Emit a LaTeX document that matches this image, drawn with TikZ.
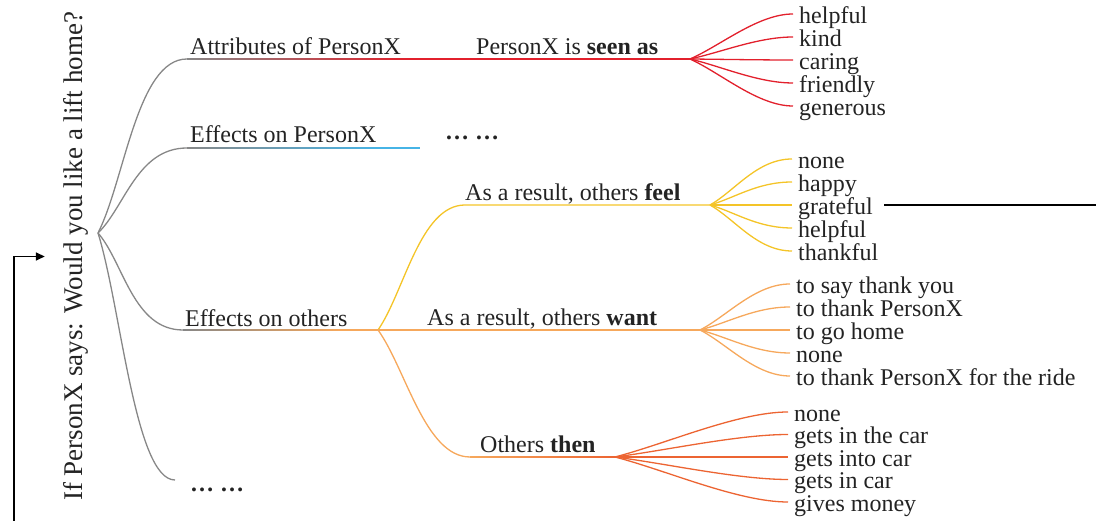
\documentclass[tikz,border=0pt]{standalone}
\usepackage{fontspec}
\setmainfont{Liberation Serif}
\usetikzlibrary{calc, positioning, arrows.meta}

\definecolor{linegray}{RGB}{135,135,135}
\definecolor{seenred}{RGB}{226,32,44}
\definecolor{effblue}{RGB}{70,180,230}
\definecolor{feelyellow}{RGB}{244,196,40}
\definecolor{wantorange}{RGB}{246,168,92}
\definecolor{thenorange}{RGB}{236,100,50}
\definecolor{inkgray}{RGB}{35,35,35}

\tikzset{
	branch/.style={line width=1.3pt, to path={.. controls ($(\tikztostart)!0.3!(\tikztotarget)$) and ($(\tikztotarget)+(-#1,0)$) .. (\tikztotarget)}},
	branch/.default=40,
	catlabel/.style={anchor=base west, inner sep=0pt, text=inkgray},
	leaf/.style={anchor=west, inner xsep=6pt, inner ysep=0pt, text height=20pt, text depth=1pt, text=inkgray},
	loopline/.style={line width=1.6pt, black}
}

\begin{document}
\begin{tikzpicture}[x=1pt, y=1pt, font=\fontsize{24}{24}\selectfont]
	\useasboundingbox (0,0) rectangle (1096,521);
	
	% the question
	\node [rotate=90, anchor=base, inner sep=18pt, text=inkgray, font=\fontsize{27}{27}\selectfont] (question) at (82,264.5) {If PersonX says: Would you like a lift home?};
	\coordinate (qfan) at (98,288);
	
	% first level
	\coordinate (attr) at (187,462);
	\coordinate (effx) at (187,373);
	\coordinate (effo) at (183,191);
	\coordinate (more) at (175,41);
	\coordinate (seenfan) at (690,462);
	\coordinate (effxend) at (420,373);
	\coordinate (othfan) at (378,191);
	
	\draw [linegray, branch=50] (qfan) to (attr);
	\draw [linegray, branch=50] (qfan) to (effx);
	\draw [linegray, branch=50] (qfan) to (effo);
	\draw [linegray, branch=40] (qfan) to (more);
	
	\shade [left color=linegray, right color=seenred] ($(attr)+(0,-0.65)$) rectangle (410,462.65);
	\draw [seenred, line width=1.3pt] (410,462) -- (seenfan);
	\shade [left color=linegray, right color=effblue] ($(effx)+(0,-0.65)$) rectangle (380,373.65);
	\draw [effblue, line width=1.3pt] (380,373) -- (effxend);
	\shade [left color=linegray, right color=wantorange] ($(effo)+(0,-0.65)$) rectangle (340,191.65);
	\draw [wantorange, line width=1.3pt] (340,191) -- (othfan);
	
	\node [catlabel] (attrlbl) at (190,466) {Attributes of PersonX};
	\node [catlabel] (effxlbl) at (190,378) {Effects on PersonX};
	\node [catlabel] (effolbl) at (185,194) {Effects on others};
	\node [catlabel] (effxdots) at (445,381) {\textbf{… …}};
	\node [catlabel] (moredots) at (190,29) {\textbf{… …}};
	
	% second level
	\coordinate (feel) at (465,316);
	\coordinate (feelfan) at (710,316);
	\coordinate (wantfan) at (700,191);
	\coordinate (then) at (470,64);
	\coordinate (thenfan) at (615,64);
	
	\draw [feelyellow, branch=45] (othfan) to (feel) -- (feelfan);
	\draw [wantorange, line width=1.3pt] (othfan) -- (wantfan);
	\draw [wantorange, branch=45] (othfan) to (then);
	\shade [left color=wantorange, right color=thenorange] ($(then)+(0,-0.65)$) rectangle (thenfan |- 0,64.65);
	
	\node [catlabel] (seenlbl) at (476,466) {PersonX is \textbf{seen as}};
	\node [catlabel] (feellbl) at (465,320) {As a result, others \textbf{feel}};
	\node [catlabel] (wantlbl) at (427,195) {As a result, others \textbf{want}};
	\node [catlabel] (thenlbl) at (480,68) {Others \textbf{then}};
	
	% leaves
	\node [leaf] (seen1) at (793,507) {helpful};
	\node [leaf] (seen2) at (793,484) {kind};
	\node [leaf] (seen3) at (793,461) {caring};
	\node [leaf] (seen4) at (793,438) {friendly};
	\node [leaf] (seen5) at (793,415) {generous};
	
	\node [leaf] (feel1) at (792,362) {none};
	\node [leaf] (feel2) at (792,339) {happy};
	\node [leaf] (feel3) at (792,316) {grateful};
	\node [leaf] (feel4) at (792,293) {helpful};
	\node [leaf] (feel5) at (792,270) {thankful};
	
	\node [leaf] (want1) at (790,237) {to say thank you};
	\node [leaf] (want2) at (790,214) {to thank PersonX};
	\node [leaf] (want3) at (790,191) {to go home};
	\node [leaf] (want4) at (790,168) {none};
	\node [leaf] (want5) at (790,145) {to thank PersonX for the ride};
	
	\node [leaf] (then1) at (788,109) {none};
	\node [leaf] (then2) at (788,86.5) {gets in the car};
	\node [leaf] (then3) at (788,64) {gets into car};
	\node [leaf] (then4) at (788,41.5) {gets in car};
	\node [leaf] (then5) at (788,19) {gives money};
	
	\foreach \i in {1,...,5} {
		\draw [seenred, branch=35] (seenfan) to (seen\i.west);
		\draw [feelyellow, branch=35] (feelfan) to (feel\i.west);
		\draw [wantorange, branch=35] (wantfan) to (want\i.west);
		\draw [thenorange, branch=50] (thenfan) to (then\i.west);
	}
	
	% loop back to the question
	\coordinate (loopout) at (1096,316);
	\coordinate (loopin) at (14,0);
	\draw [loopline, shorten <=5pt] (feel3.east) -- (loopout);
	\draw [loopline, -{Triangle[length=9pt, width=8pt]}] (loopin) |- (question.north);
	
\end{tikzpicture}
\end{document}
